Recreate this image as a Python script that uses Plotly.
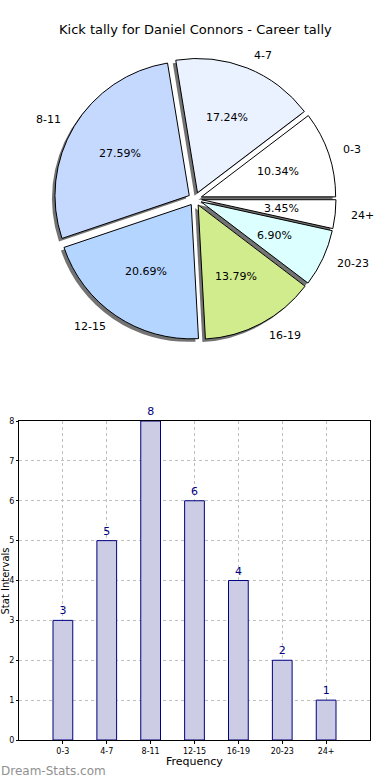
import math
import plotly.graph_objects as go

categories = ["0-3", "4-7", "8-11", "12-15", "16-19", "20-23", "24+"]
counts = [3, 5, 8, 6, 4, 2, 1]
pie_colors = ["#ffffff", "#eaf1ff", "#c5d9ff", "#b4d5ff", "#d0ec8c", "#dcffff", "#ffffff"]
PULL = 0.05
y_ticks = [0, 1, 2, 3, 4, 5, 6, 7, 8]

title = "Kick tally for Daniel Connors - Career tally"
FONT = "DejaVu Sans"

W, H = 390, 780
px = 1.0 / W
py = 1.0 / H

# pie geometry (pixels)
cx, cy, half = 195, 199, 141
R = half / (1 + PULL)
pie_dom_x = [(cx - half) * px, (cx + half) * px]
pie_dom_y = [1 - (cy + half) * py, 1 - (cy - half) * py]

total = sum(counts)
rev_labels = categories[::-1]
rev_counts = counts[::-1]
rev_colors = pie_colors[::-1]

fig = go.Figure()

# shadow
fig.add_trace(go.Pie(
    labels=rev_labels, values=rev_counts, sort=False, direction="clockwise",
    rotation=90, pull=[PULL] * len(counts),
    marker=dict(colors=["rgba(80,80,80,0.8)"] * len(counts), line=dict(width=0)),
    textinfo="none", hoverinfo="skip", showlegend=False,
    domain=dict(x=[pie_dom_x[0] - 3 * px, pie_dom_x[1] - 3 * px],
                y=[pie_dom_y[0] - 3 * py, pie_dom_y[1] - 3 * py]),
))
# main pie
fig.add_trace(go.Pie(
    labels=rev_labels, values=rev_counts, sort=False, direction="clockwise",
    rotation=90, pull=[PULL] * len(counts),
    marker=dict(colors=rev_colors, line=dict(color="black", width=1)),
    textinfo="none", showlegend=False,
    domain=dict(x=pie_dom_x, y=pie_dom_y),
))

# matplotlib-style label placement, derived from the data
annotations = []
cum = 0
for lab, c in zip(categories, counts):
    mid = math.radians(360.0 * (cum + c / 2.0) / total)
    cum += c
    ca, sa = math.cos(mid), math.sin(mid)
    rp = (0.6 + PULL) * R
    annotations.append(dict(
        text="%.2f%%" % (100.0 * c / total),
        x=(cx + rp * ca) * px, y=1 - (cy - rp * sa) * py, xref="paper", yref="paper",
        xanchor="center", yanchor="middle", showarrow=False,
        font=dict(family=FONT, size=11, color="black")))
    rl = (1.1 + PULL) * R
    annotations.append(dict(
        text=lab,
        x=(cx + rl * ca) * px, y=1 - (cy - rl * sa) * py, xref="paper", yref="paper",
        xanchor="left" if ca >= 0 else "right", yanchor="middle", showarrow=False,
        font=dict(family=FONT, size=11, color="black")))

annotations += [
    dict(text=title, x=0.5, y=1 - 30 * py, xref="paper", yref="paper",
         xanchor="center", yanchor="middle", showarrow=False,
         font=dict(family=FONT, size=13, color="black")),
    dict(text="Frequency", x=194.5 * px, y=1 - 761 * py, xref="paper", yref="paper",
         xanchor="center", yanchor="middle", showarrow=False,
         font=dict(family=FONT, size=11, color="black")),
    dict(text="Stat Intervals", x=4.5 * px, y=1 - 581 * py, xref="paper", yref="paper",
         xanchor="center", yanchor="middle", showarrow=False, textangle=-90,
         font=dict(family=FONT, size=10, color="black")),
    dict(text="Dream-Stats.com", x=-1 * px, y=1 - 771 * py, xref="paper", yref="paper",
         xanchor="left", yanchor="middle", showarrow=False,
         font=dict(family=FONT, size=12, color="#909090")),
]

fig.add_trace(go.Bar(
    x=categories, y=counts, text=[str(c) for c in counts], textposition="outside",
    textfont=dict(family=FONT, size=11, color="#000080"), cliponaxis=False,
    marker=dict(color="#ccccE4", line=dict(color="#000080", width=1)),
    width=0.45, showlegend=False, xaxis="x", yaxis="y",
))

fig.update_layout(
    width=W, height=H, margin=dict(l=0, r=0, t=0, b=0, autoexpand=False),
    paper_bgcolor="white", plot_bgcolor="white",
    font=dict(family=FONT, color="black"),
    xaxis=dict(domain=[19 * px, 370 * px], range=[-1, 7], type="category", automargin=False,
               showline=True, linecolor="black", linewidth=1, mirror=True,
               showgrid=True, gridcolor="#c0c0c0", griddash="dot", gridwidth=1,
               layer="above traces",
               ticks="outside", ticklen=3, tickcolor="black",
               tickfont=dict(family=FONT, size=8),
               anchor="y", zeroline=False),
    yaxis=dict(domain=[40 * py, 359 * py], range=[0, 8], tickvals=y_ticks, automargin=False,
               showline=True, linecolor="black", linewidth=1, mirror=True,
               showgrid=True, gridcolor="#c0c0c0", griddash="dot", gridwidth=1,
               layer="above traces",
               ticks="outside", ticklen=2, tickcolor="black",
               tickfont=dict(family=FONT, size=8),
               anchor="x", zeroline=False),
    annotations=annotations,
)

fig.write_html("out.html", config={"displayModeBar": False},
               post_script="document.body.style.margin='0px';document.body.style.padding='0px';"
                           "document.body.style.overflow='hidden';"
                           "document.documentElement.style.overflow='hidden';")
